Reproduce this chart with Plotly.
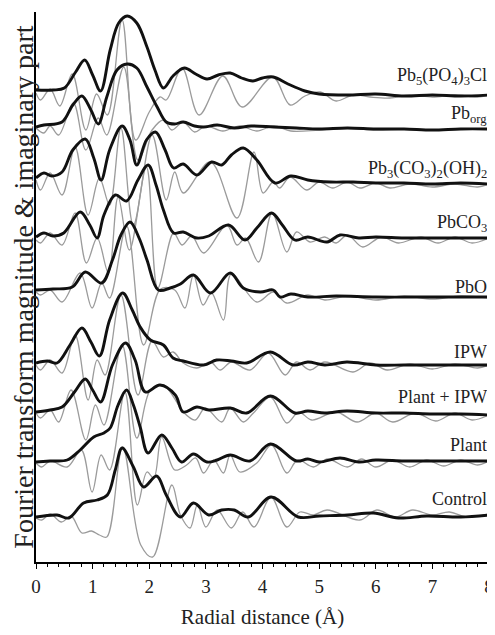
import plotly.graph_objects as go

# ---------------- data ----------------
labels = ["Pb<sub>5</sub>(PO<sub>4</sub>)<sub>3</sub>Cl", "Pb<sub>org</sub>",
          "Pb<sub>3</sub>(CO<sub>3</sub>)<sub>2</sub>(OH)<sub>2</sub>", "PbCO<sub>3</sub>",
          "PbO", "IPW", "Plant + IPW", "Plant", "Control"]
# vertical stacking offset of each spectrum
offsets = [470, 435, 381, 324, 270, 199, 149, 100, 45]

pb5_mag_x = [0, 0.3, 0.5, 0.7, 0.86, 1.0, 1.14, 1.31, 1.46, 1.61, 1.78, 1.96, 2.1, 2.25, 2.42, 2.62, 2.82, 3.02, 3.22, 3.43, 3.63, 3.83, 4.0, 4.19, 4.45, 4.75, 5.0, 5.5, 6.0, 6.5, 7.0, 7.5, 8.0]
pb5_mag_y = [2, 2, 4, 20, 32, 17, 1, 42, 69, 76, 69, 45, 22, 4, 16, 24, 18, 13, 17, 19, 14, 11, 14, 15, 8, 1, -2, -3, -2, -4, -3, -4, -3]
pb5_im_x = [0, 0.08, 0.25, 0.42, 0.64, 0.88, 1.07, 1.26, 1.52, 1.76, 2.0, 2.19, 2.3, 2.58, 2.88, 3.3, 3.64, 4.18, 4.49, 4.75, 5.02, 5.3, 5.6, 5.9, 6.25, 6.6, 7.0, 7.4, 7.8, 8.0]
pb5_im_y = [-1, -8, 3, -14, 18, -38, -2, -23, 72, -48, -20, -5, -8, 24, -23, 16, -15, 15, -13, -4, 0, -9, -3, -5, -6, -3, -5, -3, -5, -3]

pborg_mag_x = [0, 0.14, 0.46, 0.65, 0.81, 0.97, 1.1, 1.25, 1.43, 1.61, 1.78, 1.96, 2.14, 2.3, 2.45, 2.6, 2.8, 2.96, 3.2, 3.5, 3.8, 4.2, 4.6, 5.0, 5.5, 6.0, 6.5, 7.0, 7.5, 8.0]
pborg_mag_y = [0, 2, 5, 22, 31, 17, 3, 30, 57, 63, 59, 40, 20, 5, 3, 5, 1, 0, 2, -1, 1, 0, -1, -2, -1, -2, -2, -3, -2, -2]
pborg_im_x = [0, 0.14, 0.25, 0.4, 0.66, 0.88, 1.1, 1.25, 1.55, 1.8, 2.05, 2.25, 2.4, 2.6, 2.8, 3.0, 3.3, 3.6, 3.9, 4.2, 4.5, 5.0, 5.5, 6.0, 6.5, 7.0, 7.5, 8.0]
pborg_im_y = [-1, -6, 1, -8, 24, -23, 9, -8, 60, -33, -3, 7, -3, 5, -5, 1, -4, 1, -4, 1, -4, -3, -1, -3, -2, -3, -2, -2]

hc_mag_x = [0, 0.14, 0.28, 0.46, 0.65, 0.87, 1.02, 1.15, 1.3, 1.52, 1.66, 1.78, 1.95, 2.11, 2.28, 2.43, 2.6, 2.84, 3.1, 3.28, 3.45, 3.66, 3.9, 4.22, 4.5, 4.8, 5.2, 5.6, 6.0, 6.5, 7.0, 7.5, 8.0]
hc_mag_y = [3, 8, 5, 9, 31, 42, 23, 1, 31, 55, 41, 16, 41, 49, 31, 13, 17, 6, 19, 16, 26, 33, 21, -2, 5, 1, -1, -1, -2, -2, -3, -2, -3]
hc_im_x = [0, 0.08, 0.25, 0.46, 0.69, 0.92, 1.12, 1.3, 1.5, 1.72, 2.05, 2.3, 2.45, 2.6, 3.08, 3.55, 3.85, 4.01, 4.19, 4.3, 4.49, 4.78, 5.0, 5.24, 5.5, 5.72, 6.0, 6.25, 6.6, 7.0, 7.4, 7.8, 8.0]
hc_im_y = [1, -9, 8, -14, 34, -34, 3, -24, 53, -44, 46, -19, 9, -12, 19, -37, 29, -12, -1, -7, 4, -9, -1, -7, -1, -7, -2, -7, -3, -6, -3, -6, -3]

pbco3_mag_x = [0, 0.14, 0.3, 0.49, 0.78, 0.95, 1.08, 1.2, 1.4, 1.6, 1.8, 1.98, 2.12, 2.25, 2.43, 2.6, 2.84, 3.05, 3.4, 3.69, 3.9, 4.16, 4.35, 4.57, 4.8, 5.14, 5.37, 5.7, 6.0, 6.5, 7.0, 7.5, 8.0]
pbco3_mag_y = [1, 5, 2, 5, 26, 13, 0, 23, 43, 37, 58, 73, 53, 28, 5, 6, 0, 2, 13, -2, 10, 25, 13, -2, 1, -4, 3, 0, 1, 0, 0, 0, 0]
pbco3_im_x = [0, 0.08, 0.25, 0.46, 0.69, 0.89, 1.08, 1.28, 1.45, 1.65, 1.95, 2.15, 2.43, 2.58, 2.75, 2.96, 3.37, 3.55, 3.7, 3.93, 4.17, 4.43, 4.6, 4.84, 5.1, 5.3, 5.5, 5.77, 6.1, 6.4, 6.8, 7.1, 7.4, 7.7, 8.0]
pbco3_im_y = [-2, -5, 5, -7, 25, -25, 0, -35, 41, -12, 71, -50, 5, -7, 2, -15, 13, -7, 0, -24, 25, -14, 6, -4, 1, -5, 3, -9, 1, -5, 1, -5, 1, -5, 0]

pbo_mag_x = [0, 0.3, 0.64, 0.87, 1.16, 1.35, 1.5, 1.66, 1.82, 1.96, 2.16, 2.37, 2.55, 2.78, 3.08, 3.43, 3.66, 3.96, 4.19, 4.31, 4.5, 4.8, 5.3, 6.0, 7.0, 8.0]
pbo_mag_y = [2, 3, 5, 20, 9, 32, 57, 70, 54, 32, 2, 4, 8, 17, -1, 19, 4, 0, 2, -5, -2, -5, -4, -5, -5, -5]
pbo_im_x = [0, 0.08, 0.25, 0.46, 0.78, 0.99, 1.16, 1.3, 1.6, 1.9, 2.2, 2.45, 2.63, 2.78, 2.95, 3.1, 3.31, 3.45, 3.9, 4.19, 4.43, 4.8, 5.1, 5.5, 6.0, 6.5, 7.0, 7.5, 8.0]
pbo_im_y = [0, -3, 2, -10, 19, -16, 9, -6, 66, -53, 3, 2, -16, 17, -13, -1, -28, 18, -10, 0, -11, -3, -8, -4, -8, -4, -7, -4, -6]

ipw_mag_x = [0, 0.2, 0.37, 0.6, 0.81, 0.97, 1.12, 1.3, 1.53, 1.7, 1.84, 2.02, 2.25, 2.42, 2.6, 2.96, 3.19, 3.45, 3.72, 4.14, 4.54, 4.8, 5.1, 5.49, 6.0, 6.5, 7.0, 7.5, 8.0]
ipw_mag_y = [0, 2, 0, 18, 35, 21, 7, 43, 70, 53, 36, 23, 18, 5, 2, -2, 3, 2, 0, 11, -2, 1, -2, 1, -2, -2, -2, -2, -2]
ipw_im_x = [0, 0.08, 0.25, 0.46, 0.69, 0.92, 1.08, 1.22, 1.5, 1.8, 2.05, 2.25, 2.42, 2.6, 2.84, 3.08, 3.25, 3.45, 3.78, 4.1, 4.4, 4.6, 4.84, 5.1, 5.6, 5.9, 6.2, 6.6, 7.0, 7.4, 7.8, 8.0]
ipw_im_y = [-2, -7, 3, -10, 28, -37, 3, -12, 68, -32, 22, 6, 11, 0, -5, 1, -7, 1, -7, 10, -12, 1, -7, 1, -9, 0, -7, -1, -6, -1, -5, -2]

pipw_mag_x = [0, 0.25, 0.46, 0.68, 0.87, 1.0, 1.14, 1.35, 1.58, 1.75, 1.93, 2.19, 2.46, 2.6, 2.84, 3.05, 3.43, 3.72, 4.14, 4.57, 4.8, 5.1, 5.49, 6.0, 6.5, 7.0, 7.5, 8.0]
pipw_mag_y = [1, 3, 6, 21, 34, 23, 11, 48, 70, 53, 21, 28, 18, 1, 6, 3, 5, 0, 17, 0, 2, 0, 2, 0, 0, -1, -1, -2]
pipw_im_x = [0, 0.08, 0.25, 0.4, 0.62, 0.88, 1.05, 1.2, 1.52, 1.78, 2.02, 2.25, 2.43, 2.6, 2.81, 2.99, 3.28, 3.43, 3.66, 3.84, 4.14, 4.43, 4.64, 4.87, 5.3, 5.67, 6.0, 6.3, 6.7, 7.06, 7.4, 7.7, 8.0]
pipw_im_y = [0, -5, 3, -9, 23, -27, 8, -12, 68, -25, 23, 28, 16, 1, -7, 5, -9, 5, -9, 0, 16, -10, 1, -7, 1, -9, 0, -9, 0, -8, 0, -7, -2]

plant_mag_x = [0, 0.25, 0.55, 0.78, 1.02, 1.2, 1.31, 1.45, 1.6, 1.72, 1.84, 1.98, 2.22, 2.4, 2.57, 2.78, 3.02, 3.2, 3.43, 3.78, 4.14, 4.6, 4.8, 5.0, 5.37, 5.7, 6.0, 6.5, 7.0, 7.5, 8.0]
plant_mag_y = [0, 1, 2, 12, 25, 29, 34, 57, 72, 57, 35, 9, 27, 14, 0, 8, 0, 2, 7, 1, 18, 1, 3, 0, 4, 0, 2, 1, 1, 1, 1]
plant_im_x = [0, 0.1, 0.25, 0.55, 0.8, 0.99, 1.15, 1.3, 1.57, 1.79, 1.96, 2.08, 2.22, 2.45, 2.66, 2.82, 2.96, 3.14, 3.31, 3.43, 3.6, 3.9, 4.16, 4.43, 4.62, 4.9, 5.15, 5.5, 5.75, 6.0, 6.3, 6.6, 6.9, 7.2, 7.5, 7.8, 8.0]
plant_im_y = [-1, -5, 1, -5, 12, -30, 7, -8, 70, -43, -10, -16, 25, -8, -3, 4, -11, 2, -11, 7, -10, -1, 17, -11, 2, -5, 3, -5, 3, -5, 2, -5, 2, -4, 2, -3, 1]

ctrl_mag_x = [0, 0.37, 0.58, 0.84, 1.08, 1.26, 1.4, 1.52, 1.72, 1.9, 2.13, 2.3, 2.55, 2.78, 3.05, 3.28, 3.5, 3.75, 4.15, 4.63, 5.0, 5.5, 5.96, 6.4, 6.9, 7.5, 8.0]
ctrl_mag_y = [0, 2, -1, 14, 17, 22, 47, 69, 50, 30, 41, 22, 0, 14, 2, 7, 7, 0, 20, 0, 1, 2, 4, -1, 1, 0, 2]
ctrl_im_x = [0, 0.1, 0.25, 0.45, 0.62, 0.81, 0.98, 1.12, 1.25, 1.53, 1.85, 2.06, 2.4, 2.55, 2.72, 2.85, 3.0, 3.2, 3.45, 3.65, 3.85, 4.15, 4.43, 4.66, 4.9, 5.14, 5.72, 6.02, 6.35, 6.65, 7.0, 7.3, 7.6, 8.0]
ctrl_im_y = [-1, -3, 3, -5, 1, -16, -14, -18, -20, 70, -28, -40, 32, 2, -11, 12, -10, 7, -11, 5, -10, 20, -10, 5, 2, 7, -3, 7, 0, 7, 2, 5, 0, 3]

x_ticks = [0, 1, 2, 3, 4, 5, 6, 7, 8]

magnitudes = [(pb5_mag_x, pb5_mag_y), (pborg_mag_x, pborg_mag_y), (hc_mag_x, hc_mag_y),
              (pbco3_mag_x, pbco3_mag_y), (pbo_mag_x, pbo_mag_y), (ipw_mag_x, ipw_mag_y),
              (pipw_mag_x, pipw_mag_y), (plant_mag_x, plant_mag_y), (ctrl_mag_x, ctrl_mag_y)]
imaginary = [(pb5_im_x, pb5_im_y), (pborg_im_x, pborg_im_y), (hc_im_x, hc_im_y),
             (pbco3_im_x, pbco3_im_y), (pbo_im_x, pbo_im_y), (ipw_im_x, ipw_im_y),
             (pipw_im_x, pipw_im_y), (plant_im_x, plant_im_y), (ctrl_im_x, ctrl_im_y)]

# ---------------- figure ----------------
FONT = "Liberation Serif, Times New Roman, serif"
fig = go.Figure()

for (xs, ys), off, name in zip(imaginary, offsets, labels):
    fig.add_trace(go.Scatter(x=xs, y=[v + off for v in ys], mode="lines",
                             line=dict(color="#9b9b9b", width=1.3, shape="spline", smoothing=1.0),
                             name=name + " (imaginary)", showlegend=False, hoverinfo="skip"))
for (xs, ys), off, name in zip(magnitudes, offsets, labels):
    fig.add_trace(go.Scatter(x=xs, y=[v + off for v in ys], mode="lines",
                             line=dict(color="#111111", width=2.9, shape="spline", smoothing=1.0),
                             name=name, showlegend=False, hoverinfo="skip"))

label_y = [486, 448, 393, 339, 275, 210, 165, 117, 63]
for txt, ly in zip(labels, label_y):
    fig.add_annotation(x=8, y=ly, xref="x", yref="y", text=txt, showarrow=False,
                       xanchor="right", yanchor="middle",
                       font=dict(family=FONT, size=18, color="#222"))

# the page body adds an 8 px margin, so the figure is 8 px smaller than the window
fig.update_layout(
    width=487, height=627,
    margin=dict(l=28, r=6, t=4, b=73),
    paper_bgcolor="white", plot_bgcolor="white",
    font=dict(family=FONT, color="#222"),
)
fig.update_xaxes(
    range=[0, 8], tickvals=x_ticks, ticktext=[str(t) for t in x_ticks],
    showline=True, linecolor="black", linewidth=1.5,
    ticks="outside", ticklen=5, tickwidth=1.2, tickcolor="black",
    minor=dict(dtick=0.2, ticks="outside", ticklen=3, tickwidth=1, tickcolor="black"),
    showgrid=False, zeroline=False, automargin=False,
    tickfont=dict(family=FONT, size=19, color="#222"), ticklabelstandoff=1,
    title=dict(text="Radial distance (Å)", font=dict(family=FONT, size=21, color="#222"), standoff=14),
)
fig.update_yaxes(
    range=[0, 550], showline=True, linecolor="black", linewidth=1.5,
    showticklabels=False, ticks="", showgrid=False, zeroline=False, automargin=False,
    title=dict(text="Fourier transform magnitude & imaginary part",
               font=dict(family=FONT, size=28, color="#222"), standoff=4),
)

fig.write_html("out.html")
